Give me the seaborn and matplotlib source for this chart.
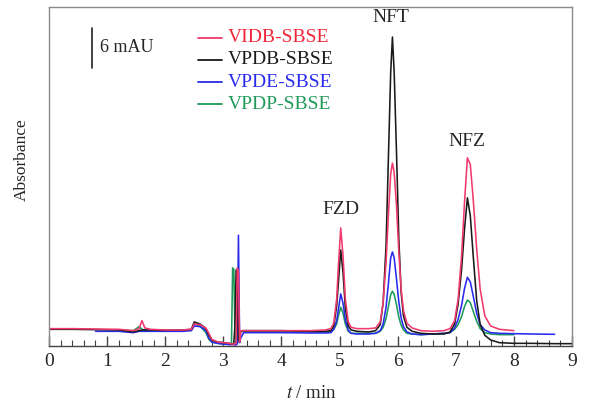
import numpy as np
import pandas as pd
import matplotlib
matplotlib.use("Agg")
import matplotlib.pyplot as plt
import seaborn as sns

nan = np.nan

# retention time grid (min)
t_min = [0.0, 0.4, 0.8, 1.2, 1.45, 1.55, 1.6, 1.65, 1.75, 2.0, 2.3, 2.45, 2.5, 2.6, 2.7,
         2.75, 2.8, 2.9, 3.0, 3.1, 3.14, 3.16, 3.18, 3.2, 3.22, 3.24, 3.26, 3.28, 3.3, 3.35,
         3.5, 4.0, 4.5, 4.75, 4.85, 4.9, 4.95, 4.98, 5.02, 5.06, 5.1, 5.15, 5.2, 5.3, 5.5,
         5.62, 5.7, 5.75, 5.8, 5.84, 5.88, 5.91, 5.94, 5.98, 6.02, 6.06, 6.1, 6.16, 6.25,
         6.4, 6.6, 6.8, 6.9, 6.98, 7.04, 7.1, 7.15, 7.2, 7.25, 7.3, 7.36, 7.42, 7.5, 7.6,
         7.75, 8.0, 8.3, 8.7, 9.0]

# absorbance (mAU) of each extraction method
vidb_sbse = [2.6, 2.6, 2.55, 2.5, 2.3, 2.6, 3.8, 2.7, 2.5, 2.4, 2.4, 2.5, 3.3, 3.2, 2.7,
             1.9, 1.0, 0.6, 0.5, 0.4, 0.3, 0.3, 0.3, 0.3, 0.4, 11.7, 11.2, 0.6, 2.3, 2.3,
             2.3, 2.3, 2.3, 2.4, 2.6, 3.4, 7.0, 12.0, 17.7, 13.5, 7.0, 3.6, 2.8, 2.6, 2.6,
             2.7, 3.6, 6.5, 12.5, 19.5, 25.8, 27.4, 26.0, 21.0, 14.0, 8.5, 5.3, 3.4, 2.7,
             2.3, 2.2, 2.3, 2.6, 3.8, 7.0, 13.5, 21.5, 28.2, 27.2, 22.0, 14.5, 8.5, 4.5, 3.0,
             2.5, 2.3, nan, nan, nan]

vpdb_sbse = [2.5, 2.5, 2.45, 2.4, 2.1, 2.3, 2.4, 2.4, 2.4, 2.35, 2.4, 2.5, 3.6, 3.3, 2.6,
             1.7, 0.9, 0.6, 0.5, 0.4, 0.3, 0.3, 0.4, 3.0, 11.4, 8.0, 1.0, 0.8, 2.2, 2.3,
             2.3, 2.3, 2.2, 2.2, 2.3, 3.0, 6.0, 9.5, 14.4, 11.0, 5.6, 3.0, 2.4, 2.2, 2.1,
             2.3, 3.2, 6.5, 15.0, 28.0, 41.0, 46.3, 41.0, 29.0, 16.0, 8.0, 4.5, 2.8, 2.2,
             1.9, 1.8, 1.8, 2.1, 3.3, 6.3, 11.5, 17.5, 22.2, 19.5, 13.5, 6.8, 3.2, 1.6, 0.9,
             0.5, 0.4, 0.4, 0.35, 0.35]

vpde_sbse = [nan, nan, 2.2, 2.2, 2.0, 2.2, 2.2, 2.2, 2.2, 2.2, 2.2, 2.3, 3.0, 2.9, 2.3,
             1.2, 0.6, 0.4, 0.3, 0.2, 0.2, 0.2, 0.2, 0.2, 0.2, 0.3, 16.6, 0.5, 1.2, 2.0,
             2.0, 2.0, 1.95, 1.95, 2.0, 2.5, 3.8, 5.5, 7.8, 6.4, 3.9, 2.4, 1.9, 1.8, 1.8,
             1.9, 2.3, 3.3, 5.8, 9.3, 13.2, 14.1, 13.2, 10.0, 6.6, 4.2, 2.9, 2.1, 1.8,
             1.7, 1.8, 1.9, 2.0, 2.7, 4.0, 6.1, 8.6, 10.3, 9.6, 7.5, 4.9, 3.2, 2.4, 2.0,
             1.9, 1.85, 1.8, 1.75, nan]

vpdp_sbse = [nan, nan, nan, 2.4, 2.3, 2.9, 2.5, 2.4, 2.4, 2.3, 2.3, 2.4, 3.3, 3.0, 2.0,
             1.0, 0.6, 0.4, 0.3, 0.3, 0.4, 11.7, 11.5, 2.0, 0.6, 0.5, 0.6, 1.5, 2.2, 2.2,
             2.2, 2.2, 2.1, 2.1, 2.1, 2.5, 3.3, 4.5, 5.8, 4.9, 3.3, 2.2, 1.9, 1.9, 1.9,
             1.9, 2.2, 2.8, 4.1, 5.9, 7.7, 8.2, 7.7, 6.2, 4.3, 3.1, 2.4, 1.9, 1.8,
             1.7, 1.8, 1.9, 2.0, 2.5, 3.2, 4.4, 5.9, 6.9, 6.5, 5.2, 3.7, 2.6, 2.0, 1.8,
             1.7, 1.7, nan, nan, nan]

series_names = ["VIDB-SBSE", "VPDB-SBSE", "VPDE-SBSE", "VPDP-SBSE"]
peak_names = ["FZD", "NFT", "NFZ"]
peak_t = [5.03, 5.89, 7.19]
peak_label_y = [20.4, 49.3, 30.7]
x_ticks = [0, 1, 2, 3, 4, 5, 6, 7, 8, 9]

line_colors = {"VIDB-SBSE": "#f03a6e", "VPDB-SBSE": "#1a1a1a",
               "VPDE-SBSE": "#2a2aee", "VPDP-SBSE": "#1f9a5a"}
text_colors = {"VIDB-SBSE": "#f02638", "VPDB-SBSE": "#1a1a1a",
               "VPDE-SBSE": "#2a2aee", "VPDP-SBSE": "#1f9a5a"}

frames = []
for name, vals in zip(series_names, [vidb_sbse, vpdb_sbse, vpde_sbse, vpdp_sbse]):
    frames.append(pd.DataFrame({"t": t_min, "A": vals, "method": name}))
df = pd.concat(frames, ignore_index=True).dropna()

sns.set_style("white")
plt.rcParams["font.family"] = ["Liberation Serif", "DejaVu Serif"]

fig = plt.figure(figsize=(5.89, 4.07), dpi=100)
ax = fig.add_axes([49/589, 1-346/407, 523/589, 339/407])

draw_order = ["VPDP-SBSE", "VPDE-SBSE", "VPDB-SBSE", "VIDB-SBSE"]
for name in draw_order:
    sns.lineplot(data=df[df["method"] == name], x="t", y="A", color=line_colors[name],
                 lw=1.15, estimator=None, sort=False, ax=ax, legend=False)

ax.set_xlim(0, 9)
ax.set_ylim(0, 50.8)
ax.set_xticks(x_ticks)
ax.set_xticklabels([str(v) for v in x_ticks], fontsize=14)
ax.set_xticks(np.arange(0, 9.01, 0.2), minor=True)
ax.set_yticks([])
ax.tick_params(axis="x", which="major", direction="in", length=7, width=1,
               color="#444444", pad=5, bottom=True)
ax.tick_params(axis="x", which="minor", direction="in", length=4, width=0.8,
               color="#444444", bottom=True)
for sp in ax.spines.values():
    sp.set_color("#8a8a8a")
    sp.set_linewidth(1.0)
ax.spines["bottom"].set_color("#444444")
ax.set_xlabel("")
ax.set_ylabel("")

fig.text(22/589, 1-160/407, "Absorbance", rotation=90, ha="center", va="center", fontsize=12.5)
fig.text(311/589, 1-394/407, r"$t$ / min", ha="center", va="center", fontsize=13.5,
         math_fontfamily="stix")

# scale bar
ax.plot([0.74, 0.74], [41.7, 47.7], color="#222222", lw=1.2)
ax.text(0.88, 44.8, "6 mAU", fontsize=13, va="center", ha="left")

# legend
leg_y = [46.2, 42.9, 39.5, 36.2]
for name, yy in zip(series_names, leg_y):
    ax.plot([2.56, 2.98], [yy, yy], color=line_colors[name], lw=1.3)
    ax.text(3.08, yy, name, color=text_colors[name], fontsize=14, va="center", ha="left")

for name, xx, yy in zip(peak_names, peak_t, peak_label_y):
    ax.text(xx, yy, name, fontsize=14, ha="center", va="center")

fig.savefig("out.png", dpi=100)
